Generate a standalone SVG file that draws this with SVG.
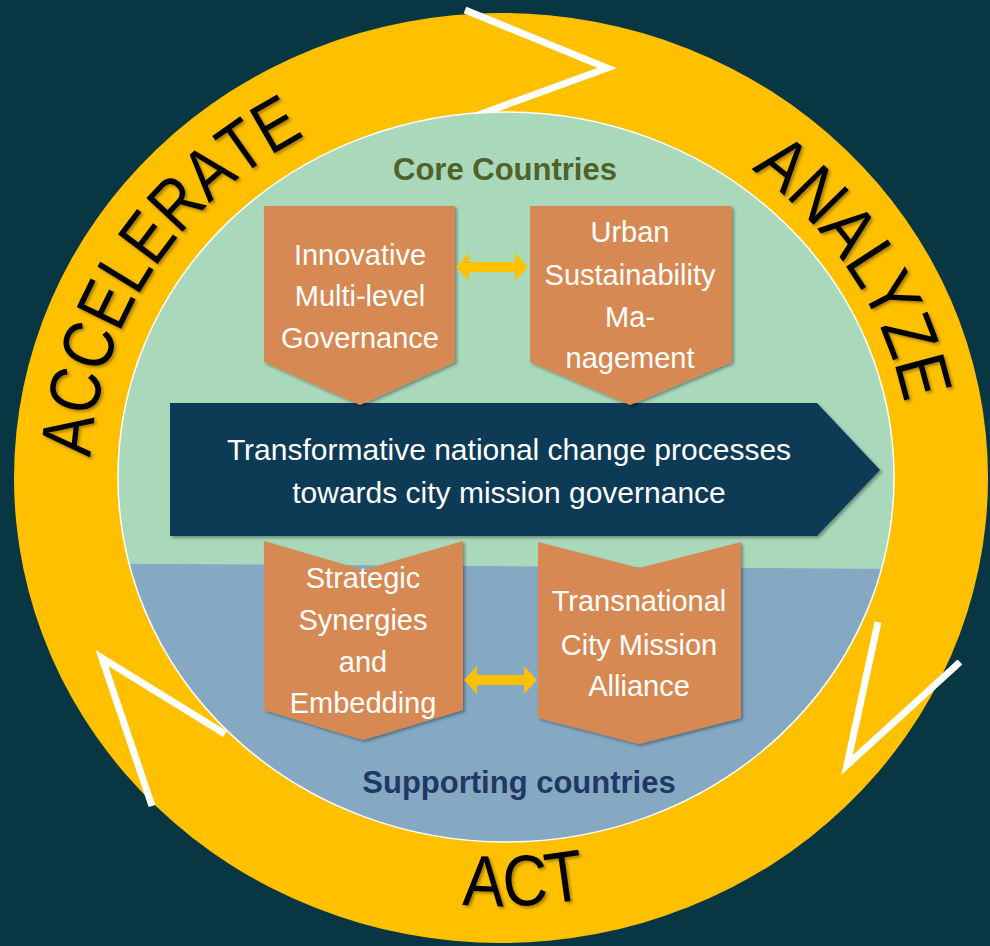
<svg xmlns="http://www.w3.org/2000/svg" width="990" height="946" viewBox="0 0 990 946">
<style>
.ring{font-family:"Liberation Sans","DejaVu Sans",sans-serif;font-size:72px;fill:#000;}
.node{fill:#d78953;}
.nt{font-family:"Liberation Sans","DejaVu Sans",sans-serif;font-size:29px;fill:#fff;text-anchor:middle;}
.mt{font-family:"Liberation Sans","DejaVu Sans",sans-serif;font-size:30px;fill:#fff;text-anchor:middle;}
.hd{font-family:"Liberation Sans","DejaVu Sans",sans-serif;font-size:31px;font-weight:bold;text-anchor:middle;}
.chev{fill:none;stroke:#fff;stroke-width:7;stroke-linejoin:miter;}
.dbl{fill:#ffc000;}
</style>
<defs>
<filter id="sh" x="-10%" y="-10%" width="130%" height="130%">
<feDropShadow dx="2" dy="2" stdDeviation="1.5" flood-color="#000" flood-opacity="0.35"/>
</filter>
<clipPath id="inner"><ellipse cx="506" cy="477" rx="388" ry="365"/></clipPath>
<path id="pAcc" d="M90.6,457.6 A411,389 0 0 1 706.5,141.1"/>
<path id="pAna" d="M751.2,169.4 A411,389 0 0 1 905.8,545.5"/>
<path id="pAct" d="M275,848.7 A452,428 0 0 0 727,848.7"/>
</defs>
<rect x="0" y="0" width="990" height="946" fill="#083743"/>
<g id="ring">
<ellipse cx="501" cy="478" rx="487" ry="465" fill="#ffc000"/>
</g>
<g id="chevrons">
<polyline class="chev" points="465,10 607,68 470,118"/>
<polyline class="chev" points="152,806 102,658 225,734"/>
<polyline class="chev" points="878,622 847,765 960,662"/>
</g>
<g id="inner-area">
<g clip-path="url(#inner)">
<rect x="100" y="100" width="820" height="760" fill="#85a9c3"/>
<polygon points="100,100 920,100 920,569.2 100,563.5" fill="#a9d8bb"/>
</g>
<ellipse cx="506" cy="477" rx="388" ry="365" fill="none" stroke="#ffffff" stroke-width="1.5"/>
</g>
<g id="ring-labels" filter="url(#sh)">
<text class="ring"><textPath href="#pAcc" startOffset="0" textLength="168.7" lengthAdjust="spacingAndGlyphs">ACCE</textPath></text>
<text class="ring"><textPath href="#pAcc" startOffset="168.7" textLength="158.6" lengthAdjust="spacingAndGlyphs">LERA</textPath></text>
<text class="ring"><textPath href="#pAcc" startOffset="327.3" textLength="77.6" lengthAdjust="spacingAndGlyphs">TE</textPath></text>
<text class="ring"><textPath href="#pAna" textLength="286" lengthAdjust="spacingAndGlyphs">ANALYZE</textPath></text>
<text class="ring" text-anchor="middle"><textPath href="#pAct" startOffset="259" textLength="125" lengthAdjust="spacingAndGlyphs">ACT</textPath></text>
</g>
<g id="core-label"><text class="hd" x="505" y="180" fill="#4f6228">Core Countries</text></g>
<g id="supporting-label"><text class="hd" x="519" y="793" fill="#1f3864">Supporting countries</text></g>
<g id="main-process">
<polygon points="170,403 817,403 880,470 817,536 170,536" fill="#0b3b57" filter="url(#sh)"/>
<text class="mt" x="509" y="460">Transformative national change processes</text>
<text class="mt" x="509" y="503">towards city mission governance</text>
</g>
<g id="innovative">
<polygon class="node" points="264,206 455,206 455,362 360,405 264,362" filter="url(#sh)"/>
<text class="nt" x="360" y="265">Innovative</text>
<text class="nt" x="360" y="306">Multi-level</text>
<text class="nt" x="360" y="348">Governance</text>
</g>
<g id="urban">
<polygon class="node" points="530,206 732,206 732,362 630,405 530,362" filter="url(#sh)"/>
<text class="nt" x="630" y="242">Urban</text>
<text class="nt" x="630" y="285">Sustainability</text>
<text class="nt" x="630" y="327">Ma-</text>
<text class="nt" x="630" y="368">nagement</text>
</g>
<g id="strategic">
<polygon class="node" points="264,541 363,570 463,541 463,710 363,740 264,710" filter="url(#sh)"/>
<text class="nt" x="363" y="588">Strategic</text>
<text class="nt" x="363" y="630">Synergies</text>
<text class="nt" x="363" y="672">and</text>
<text class="nt" x="363" y="713">Embedding</text>
</g>
<g id="transnational">
<polygon class="node" points="538,542 639,568 741,542 741,718 639,744 538,718" filter="url(#sh)"/>
<text class="nt" x="639" y="611">Transnational</text>
<text class="nt" x="639" y="655">City Mission</text>
<text class="nt" x="639" y="696">Alliance</text>
</g>
<g id="connectors">
<polygon class="dbl" points="456,267 469,253 469,262 515,262 515,253 528,267 515,281 515,272 469,272 469,281"/>
<polygon class="dbl" points="464,680 477,666 477,675 524,675 524,666 537,680 524,694 524,685 477,685 477,694"/>
</g>
</svg>
